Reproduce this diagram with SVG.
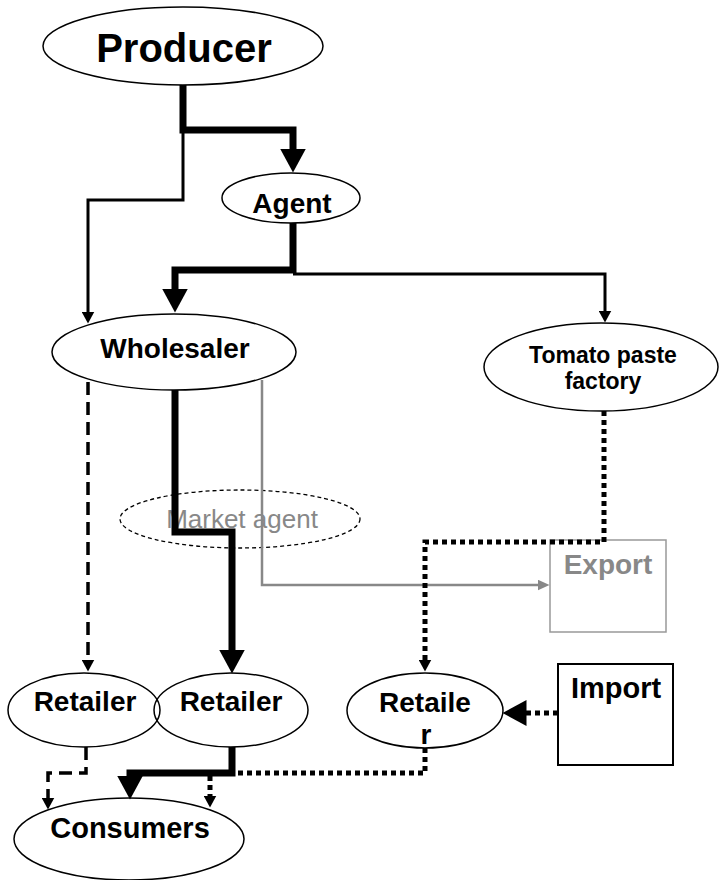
<svg xmlns="http://www.w3.org/2000/svg" width="719" height="880" viewBox="0 0 719 880">
<style>
.n{fill:none;stroke:#000;stroke-width:1.5}
.t{font-family:"Liberation Sans",Arial,sans-serif;font-weight:bold;fill:#000;text-anchor:middle}
.g{fill:#888}
.thick{fill:none;stroke:#000;stroke-width:7}
.thin{fill:none;stroke:#000;stroke-width:3}
.dash{fill:none;stroke:#000;stroke-width:3.5;stroke-dasharray:13 7}
.dot{fill:none;stroke:#000;stroke-width:5;stroke-dasharray:5 4}
.gray{fill:none;stroke:#888;stroke-width:2.5}
</style>
<defs>
<marker id="big" markerUnits="userSpaceOnUse" markerWidth="24" markerHeight="26" viewBox="0 0 24 26" refX="0.5" refY="13" orient="auto"><path d="M0,0 L24,13 L0,26 z" fill="#000"/></marker>
<marker id="sm" markerUnits="userSpaceOnUse" markerWidth="12" markerHeight="13" viewBox="0 0 12 13" refX="0.5" refY="6.5" orient="auto"><path d="M0,0 L12,6.5 L0,13 z" fill="#000"/></marker>
<marker id="gm" markerUnits="userSpaceOnUse" markerWidth="12" markerHeight="11" viewBox="0 0 12 11" refX="0.5" refY="5.5" orient="auto"><path d="M0,0 L12,5.5 L0,11 z" fill="#888"/></marker>
</defs>
<rect width="719" height="880" fill="#fff"/>
<g id="producer"><ellipse class="n" cx="183" cy="46" rx="140" ry="39"/><text class="t" x="184" y="62" font-size="40">Producer</text></g>
<g id="agent"><ellipse class="n" cx="291" cy="198" rx="69" ry="25"/><text class="t" x="292" y="213" font-size="28">Agent</text></g>
<g id="wholesaler"><ellipse class="n" cx="174" cy="352" rx="122" ry="38"/><text class="t" x="175" y="358" font-size="28">Wholesaler</text></g>
<g id="factory"><ellipse class="n" cx="601" cy="367" rx="117" ry="44"/><text class="t" x="603" y="363" font-size="23">Tomato paste</text><text class="t" x="603" y="389" font-size="23">factory</text></g>
<g id="market-agent"><ellipse cx="240" cy="519" rx="120" ry="29" fill="none" stroke="#000" stroke-width="1.3" stroke-dasharray="4 3"/><text x="242" y="528" font-size="26" font-family="Liberation Sans, Arial, sans-serif" fill="#888" text-anchor="middle">Market agent</text></g>
<g id="export"><rect x="550" y="540" width="116" height="92" fill="none" stroke="#999" stroke-width="1.5"/><text class="t g" x="608" y="574" font-size="28">Export</text></g>
<g id="retailer1"><ellipse class="n" cx="84" cy="710" rx="76" ry="37"/><text class="t" x="85" y="711" font-size="28">Retailer</text></g>
<g id="retailer2"><ellipse class="n" cx="231" cy="710" rx="77" ry="37"/><text class="t" x="231" y="711" font-size="28">Retailer</text></g>
<g id="retailer3"><ellipse class="n" cx="425" cy="710.5" rx="78" ry="37.5"/><text class="t" x="425" y="712" font-size="28">Retaile</text><text class="t" x="426" y="744" font-size="28">r</text></g>
<g id="import"><rect x="558" y="664" width="115" height="101" fill="none" stroke="#000" stroke-width="2"/><text class="t" x="616" y="698" font-size="29">Import</text></g>
<g id="consumers"><ellipse class="n" cx="129" cy="839" rx="115" ry="41"/><text class="t" x="130" y="838" font-size="29">Consumers</text></g>
<g id="connectors">
<path class="thin" d="M183,130 V200 H88 V312" marker-end="url(#sm)"/>
<path class="thin" d="M293,274 H605 V311" marker-end="url(#sm)"/>
<path class="thick" d="M183,85 V130 H293 V149" marker-end="url(#big)"/>
<path class="thick" d="M293,223 V270 H175 V289" marker-end="url(#big)"/>
<path class="dash" d="M88,382 V660" marker-end="url(#sm)"/>
<path class="gray" d="M262,380 V585 H538" marker-end="url(#gm)"/>
<path class="thick" d="M175,390 V532 H232 V650" marker-end="url(#big)"/>
<path class="dot" d="M604,411 V542 H425 V660" marker-end="url(#sm)"/>
<path class="dot" d="M558,713 H526" marker-end="url(#big)"/>
<path class="dot" d="M425,748 V773 H210 V796" marker-end="url(#sm)"/>
<path class="dash" d="M86,747 V773 H48 V798" marker-end="url(#sm)"/>
<path class="thick" d="M232,747 V773 H130 V776" marker-end="url(#big)"/>
</g>
</svg>
